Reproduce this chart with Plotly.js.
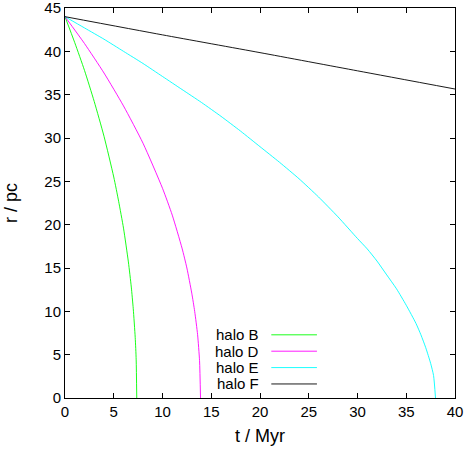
<!DOCTYPE html>
<html>
<head>
<meta charset="utf-8">
<script src="https://cdn.plot.ly/plotly-3.0.1.min.js"></script>
<style>
  body { margin: 0; background: #fff; }
  #chart { width: 470px; height: 450px; }
</style>
</head>
<body>
<div id="chart"></div>
<script>
// halo sinking curves
var tB = [0, 1, 2, 3, 4, 5, 5.5, 6, 6.5, 6.8, 7.0, 7.2, 7.3, 7.36];
var rB = [44, 41.0, 37.8, 34.2, 30.2, 25.5, 22.7, 19.6, 15.7, 12.8, 10.3, 7.0, 4.4, 0];

var tD = [0, 2, 4, 6, 8, 10, 11, 12, 12.5, 13, 13.3, 13.6, 13.8, 13.9];
var rD = [44, 40.9, 37.5, 33.7, 29.4, 24.2, 21.1, 17.3, 15.0, 12.1, 10.0, 7.3, 4.3, 0];

var tE = [0, 2, 4, 6, 8, 10, 12, 14, 16, 18, 20, 22, 24, 26, 28, 30, 31, 32, 33, 34, 35, 36, 36.5, 37, 37.5, 37.8, 38];
var rE = [44, 42.7, 41.4, 40.0, 38.6, 37.1, 35.6, 34.1, 32.5, 30.8, 29.0, 27.2, 25.3, 23.2, 20.9, 18.4, 17.2, 15.8, 14.2, 12.6, 10.7, 8.6, 7.3, 5.8, 4.0, 2.6, 0];

var tF = [0, 10, 20, 30, 40];
var rF = [44, 41.9, 39.85, 37.75, 35.65];

var names = ['halo B', 'halo D', 'halo E', 'halo F'];
var colors = ['#00ff00', '#ff00ff', '#00ffff', '#000000'];
var xTicks = [0, 5, 10, 15, 20, 25, 30, 35, 40];
var yTicks = [0, 5, 10, 15, 20, 25, 30, 35, 40, 45];
var tAll = [tB, tD, tE, tF];
var rAll = [rB, rD, rE, rF];

var data = [];
for (var i = 0; i < names.length; i++) {
    data.push({
        x: tAll[i],
        y: rAll[i],
        name: names[i],
        type: 'scatter',
        mode: 'lines',
        line: {color: colors[i], width: 0.9, shape: 'spline', smoothing: 0.6},
        showlegend: false
    });
}

// gnuplot style key: text on the left, line sample on the right
var annotations = [];
var shapes = [];
for (var k = 0; k < names.length; k++) {
    var yk = 0.162 - k * 0.042;
    annotations.push({
        xref: 'paper', yref: 'paper',
        x: 0.503, y: yk, xanchor: 'right', yanchor: 'middle',
        text: names[k], showarrow: false,
        font: {family: 'Liberation Sans, Arial, sans-serif', size: 15, color: '#000'}
    });
    shapes.push({
        type: 'line', xref: 'paper', yref: 'paper',
        x0: 0.529, x1: 0.646, y0: yk, y1: yk,
        line: {color: colors[k], width: 0.9}
    });
}

var layout = {
    width: 470,
    height: 450,
    margin: {l: 65, r: 15, t: 8, b: 52},
    paper_bgcolor: '#fff',
    plot_bgcolor: '#fff',
    font: {family: 'Liberation Sans, Arial, sans-serif', size: 15, color: '#000'},
    xaxis: {
        title: {text: 't / Myr', standoff: 10},
        range: [0, 40],
        tickmode: 'array',
        tickvals: xTicks,
        ticks: 'inside',
        ticklen: 5,
        tickcolor: '#000',
        ticklabeloverflow: 'allow',
        showline: true,
        linecolor: '#000',
        linewidth: 1,
        mirror: 'allticks',
        showgrid: false,
        zeroline: false
    },
    yaxis: {
        title: {text: 'r / pc', standoff: 22},
        range: [0, 45],
        tickmode: 'array',
        tickvals: yTicks,
        ticks: 'inside',
        ticklen: 5,
        tickcolor: '#000',
        ticklabeloverflow: 'allow',
        showline: true,
        linecolor: '#000',
        linewidth: 1,
        mirror: 'allticks',
        showgrid: false,
        zeroline: false
    },
    annotations: annotations,
    shapes: shapes,
    showlegend: false
};

Plotly.newPlot('chart', data, layout, {displayModeBar: false});
</script>
</body>
</html>
